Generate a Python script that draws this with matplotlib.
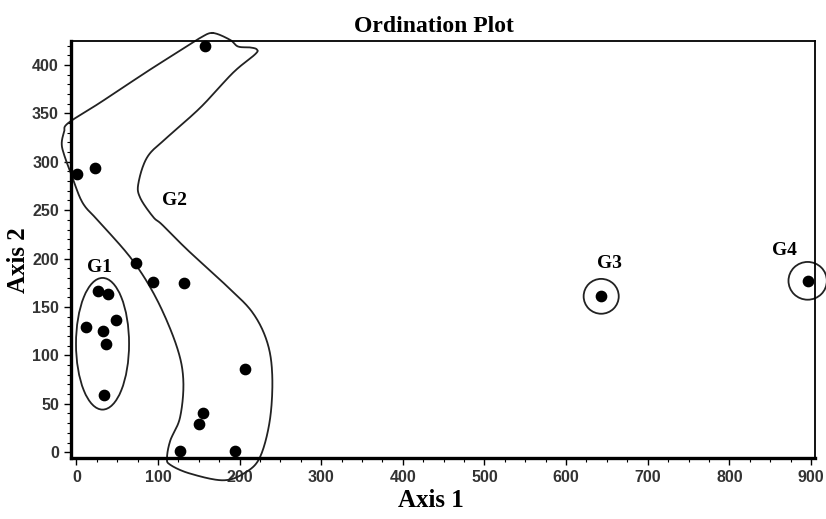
import numpy as np
import matplotlib.pyplot as plt
from matplotlib.patches import Ellipse
from matplotlib.ticker import MultipleLocator

# ordination scores
axis1 = [158, 1, 23, 73, 94, 132, 26, 39, 49, 12, 32, 36, 34, 207, 155, 150, 127, 194, 643, 896]
axis2 = [419, 287, 294, 195, 176, 175, 166, 163, 137, 129, 125, 112, 59, 86, 41, 29, 1, 1, 161, 177]

# hand drawn outline around group G2 (data units)
g2_x = [167, 188, 198, 213, 221, 219, 192, 152, 111, 87, 76, 78, 94, 105, 136, 185, 216, 234, 240,
        237, 225, 207, 180, 139, 115, 111, 115, 127, 131, 123, 99, 69, 29, 8, -5, -15, -18, -15, -10,
        29, 90, 139, 152]
g2_y = [433, 426, 419, 418, 416, 411, 392, 356, 325, 305, 278, 263, 243, 235, 209, 171, 144, 113, 78,
        33, -5, -21, -29, -22, -13, -6, 12, 36, 74, 109, 157, 198, 237, 257, 284, 307, 319, 331, 340,
        361, 395, 421, 428]

groups = ['G1', 'G2', 'G3', 'G4']
label_x = [28, 120, 653, 867]
label_y = [191, 260, 195, 208]


def closed_spline(xs, ys, n=20):
    # periodic catmull-rom through the outline points
    p = np.column_stack([xs, ys]).astype(float)
    k = len(p)
    out = []
    t = np.linspace(0, 1, n, endpoint=False)[:, None]
    for i in range(k):
        p0, p1, p2, p3 = p[i - 1], p[i], p[(i + 1) % k], p[(i + 2) % k]
        out.append(0.5 * (2 * p1 + (-p0 + p2) * t + (2 * p0 - 5 * p1 + 4 * p2 - p3) * t ** 2
                          + (-p0 + 3 * p1 - 3 * p2 + p3) * t ** 3))
    out = np.vstack(out)
    return np.vstack([out, out[:1]])


fig = plt.figure(figsize=(8.26, 5.19), dpi=100)
ax = fig.add_axes([0.0856, 0.1175, 0.9011, 0.8041])

ax.scatter(axis1, axis2, s=55, c='black', zorder=3, clip_on=False)

line_kw = dict(fill=False, lw=1.3, ec='#222222', clip_on=False)
ax.add_patch(Ellipse((32, 112), 65, 136, **line_kw))
ax.add_patch(Ellipse((643, 161), 43, 36, **line_kw))
ax.add_patch(Ellipse((896, 177), 47, 39, **line_kw))

c = closed_spline(g2_x, g2_y)
ax.plot(c[:, 0], c[:, 1], color='#222222', lw=1.3, clip_on=False)

for g, x, y in zip(groups, label_x, label_y):
    ax.text(x, y, g, fontsize=14, fontweight='bold', family='Liberation Serif',
            ha='center', va='center')

ax.set_xlim(-7, 905)
ax.set_ylim(-6, 425)
ax.set_xticks(range(0, 901, 100))
ax.set_yticks(range(0, 401, 50))
ax.xaxis.set_minor_locator(MultipleLocator(25))
ax.yaxis.set_minor_locator(MultipleLocator(10))
ax.tick_params(which='major', length=5, width=1, direction='out', labelsize=11.5,
               labelcolor='#333333', top=False, right=False)
ax.tick_params(which='minor', length=3, width=0.8, direction='out', top=False, right=False)
for lab in ax.get_xticklabels() + ax.get_yticklabels():
    lab.set_family(['Liberation Sans Narrow', 'Liberation Sans'])
    lab.set_fontweight('bold')

ax.spines['bottom'].set_linewidth(2.4)
ax.spines['left'].set_linewidth(2.4)
ax.spines['top'].set_linewidth(1.3)
ax.spines['right'].set_linewidth(1.3)

ax.set_title('Ordination Plot', fontsize=17, fontweight='bold', family='Liberation Serif',
             pad=6, x=0.488)
ax.set_xlabel('Axis 1', fontsize=18, fontweight='bold', family='Liberation Serif', labelpad=2)
ax.xaxis.set_label_coords(0.484, -0.075)
ax.xaxis.label.set_va('top')
ax.set_ylabel('Axis 2', fontsize=18, fontweight='bold', family='Liberation Serif')
ax.yaxis.set_label_coords(-0.055, 0.474)

fig.savefig('out.png', dpi=100)
